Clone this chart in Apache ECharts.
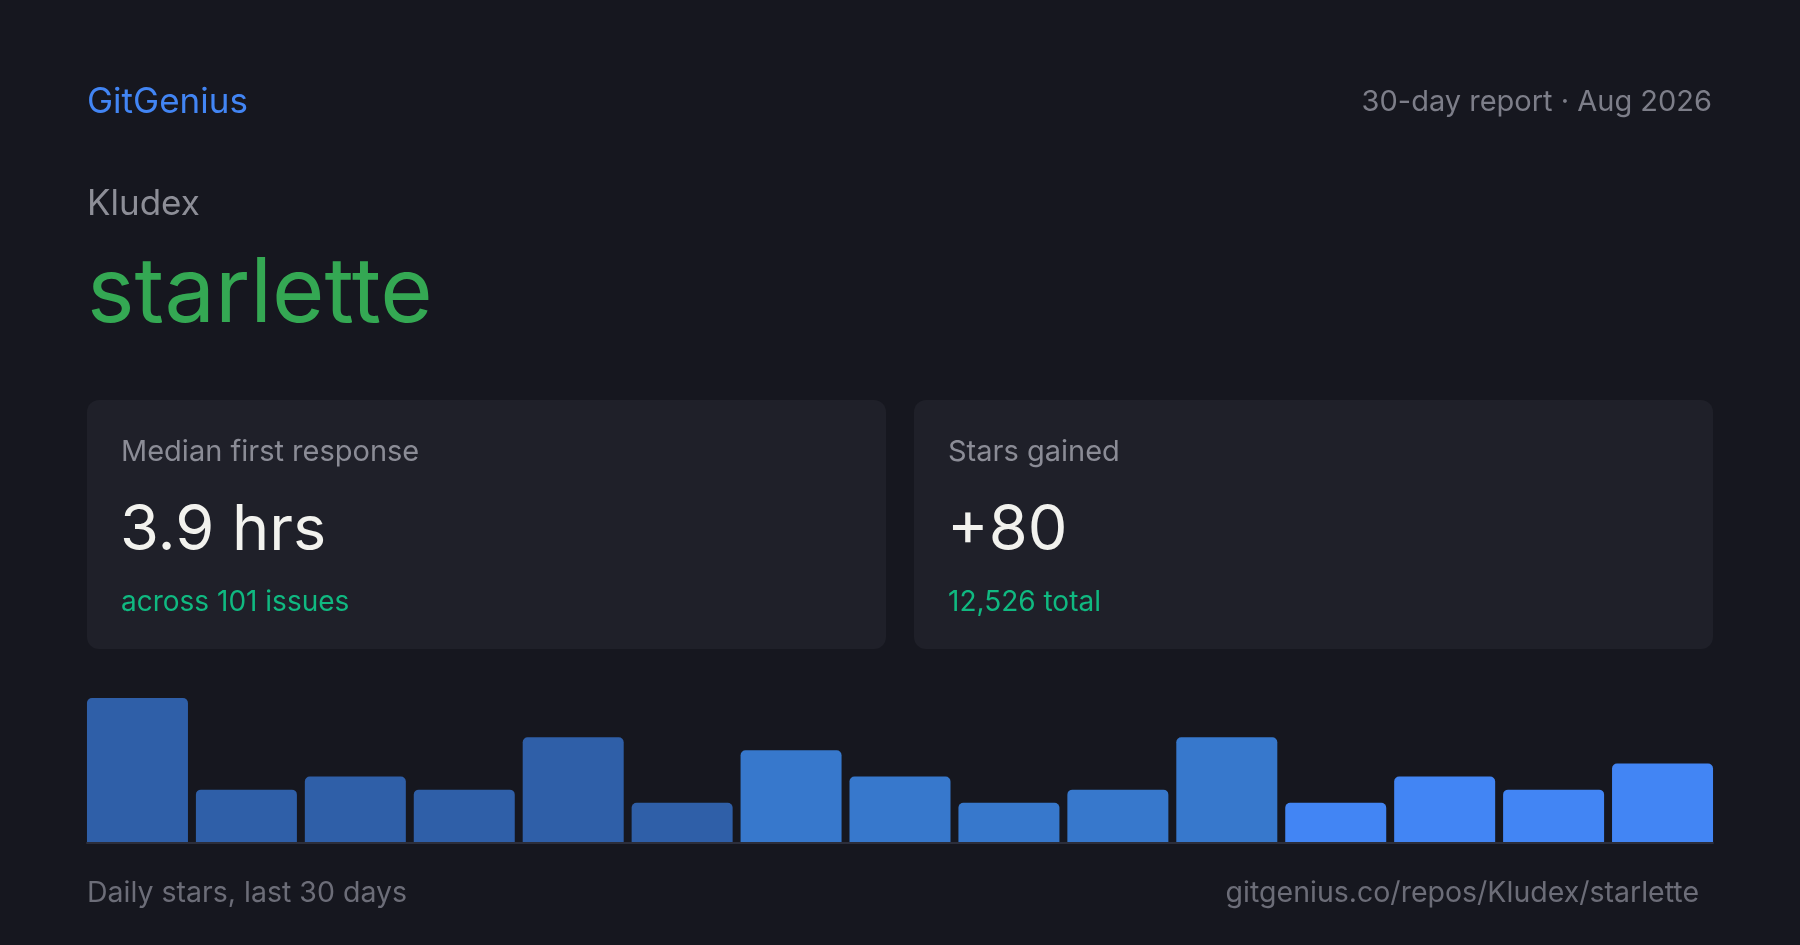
<!DOCTYPE html>
<html>
<head>
<meta charset="utf-8">
<script src="https://cdn.jsdelivr.net/npm/echarts@6/dist/echarts.min.js"></script>
<style>
  html, body { margin: 0; padding: 0; background: #16171f; }
  #chart { width: 1800px; height: 945px; }
</style>
</head>
<body>
<div id="chart"></div>
<script>
// ---- data ----
const days = ['1','2','3','4','5','6','7','8','9','10','11','12','13','14','15'];
const dailyStars = [11, 4, 5, 4, 8, 3, 7, 5, 3, 4, 8, 3, 5, 4, 6];
const brand = 'GitGenius';
const reportLabel = '30-day report · Aug 2026';
const owner = 'Kludex';
const repo = 'starlette';
const cardLabels = ['Median first response', 'Stars gained'];
const cardValues = ['3.9 hrs', '+80'];
const cardSubs = ['across 101 issues', '12,526 total'];
const footerLeft = 'Daily stars, last 30 days';
const footerRight = 'gitgenius.co/repos/Kludex/starlette';

// ---- styles ----
const FONT = 'Inter, "Noto Sans", sans-serif';
const shades = ['#2f5fa8', '#3778cc', '#4285f4'];
function shadeFor(i) { return i < 6 ? shades[0] : (i < 11 ? shades[1] : shades[2]); }

function txt(text, x, baseline, size, color, align, weight) {
  return {
    type: 'text',
    x: x,
    y: baseline - size * 0.36,
    style: {
      text: text,
      font: (weight || 'normal') + ' ' + size + 'px ' + FONT,
      fill: color,
      align: align || 'left',
      verticalAlign: 'middle'
    },
    silent: true
  };
}

const graphics = [
  txt(brand, 87, 115, 35, '#4285f4'),
  txt(reportLabel, 1712, 113, 29, '#7d7e89', 'right'),
  txt(owner, 87, 217, 35, '#8d8e97'),
  txt(repo, 87, 327, 90, '#34a853'),
];
const cardX = [87, 914];
cardX.forEach(function (cx, i) {
  graphics.push({
    type: 'rect',
    shape: { x: cx, y: 400, width: 799, height: 249, r: 12 },
    style: { fill: '#1f2029' },
    silent: true,
    z: 0
  });
  graphics.push(txt(cardLabels[i], cx + 34, 463, 29, '#8b8c96'));
  graphics.push(txt(cardValues[i], cx + 33, 554, 63, '#f2f2ee'));
  graphics.push(txt(cardSubs[i], cx + 34, 613, 28, '#10b981'));
});
graphics.push(txt(footerLeft, 87, 904, 28.5, '#6c6d78'));
graphics.push(txt(footerRight, 1699, 904, 28.5, '#6c6d78', 'right'));

const chart = echarts.init(document.getElementById('chart'), null, { renderer: 'canvas' });
chart.setOption({
  backgroundColor: '#16171f',
  animation: false,
  grid: [
    { left: 83, right: 83, top: 698, bottom: 103 },
    { left: 87, right: 87, top: 698, bottom: 102 }
  ],
  xAxis: [{
    type: 'category',
    gridIndex: 0,
    data: days,
    axisLine: { show: false },
    axisTick: { show: false },
    axisLabel: { show: false },
    splitLine: { show: false }
  }, {
    type: 'category',
    gridIndex: 1,
    data: days,
    axisLine: { show: true, lineStyle: { color: '#2c2e3b', width: 2 } },
    axisTick: { show: false },
    axisLabel: { show: false },
    splitLine: { show: false }
  }],
  yAxis: [{
    type: 'value',
    gridIndex: 0,
    min: 0,
    max: 11,
    show: false,
    splitLine: { show: false }
  }, {
    type: 'value',
    gridIndex: 1,
    min: 0,
    max: 11,
    show: false,
    splitLine: { show: false }
  }],
  series: [{
    type: 'bar',
    xAxisIndex: 0,
    yAxisIndex: 0,
    barWidth: 101,
    data: dailyStars.map(function (v, i) {
      return { value: v, itemStyle: { color: shadeFor(i) } };
    }),
    itemStyle: { borderRadius: [5, 5, 0, 0] },
    silent: true
  }],
  graphic: graphics
});
</script>
</body>
</html>
